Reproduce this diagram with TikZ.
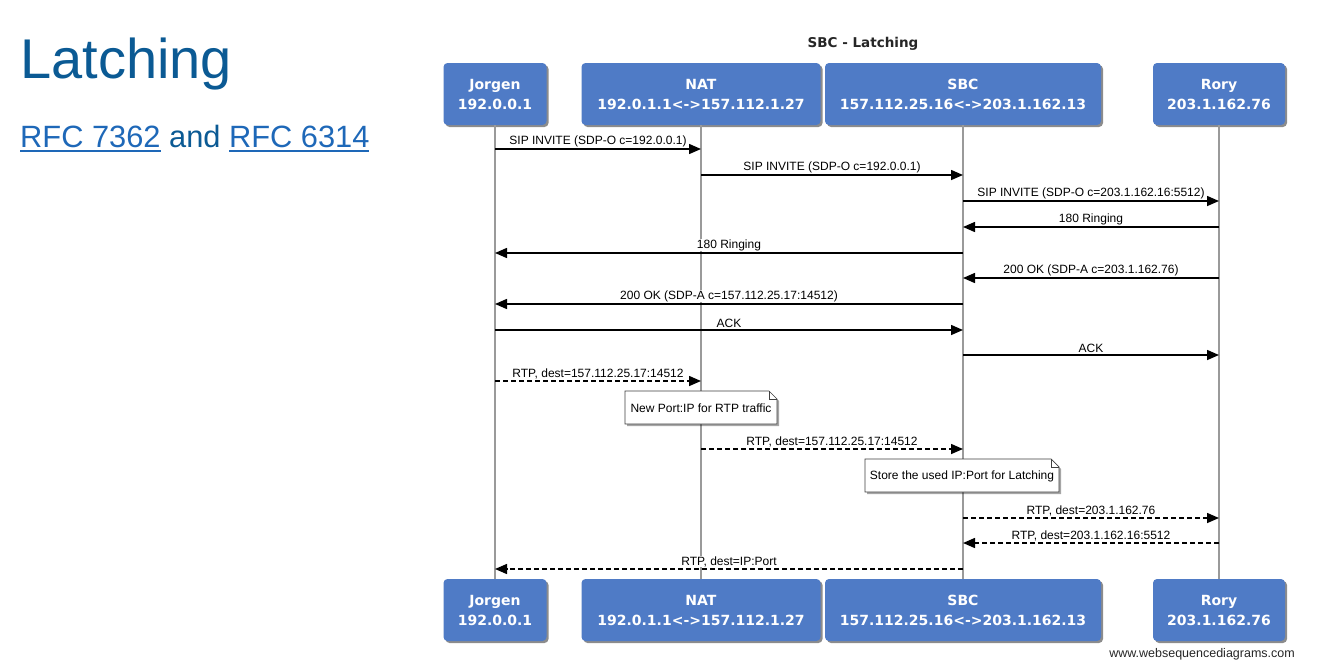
\documentclass[tikz,border=0pt]{standalone}
\usepackage{fontspec}
\setmainfont{Liberation Sans}
\newfontfamily\boxfont{DejaVu Sans}
\usetikzlibrary{positioning,arrows.meta,shadows}
\definecolor{wsdblue}{HTML}{4F7BC6}
\definecolor{slideblue}{HTML}{0B5A94}
\definecolor{linkblue}{HTML}{1E68B8}
\definecolor{lifegray}{HTML}{9A9A9A}
\newcommand\rfcul[1]{\sbox0{#1}\rlap{\rule[-4.5pt]{\wd0}{1.8pt}}\usebox0}

\begin{document}
\begin{tikzpicture}[x=1pt, y=-1pt,
    actor/.style={fill=wsdblue, rounded corners=4pt, minimum height=62pt, inner sep=0pt,
      text=white, align=center, font=\boxfont\bfseries\fontsize{14}{20}\selectfont,
      drop shadow={shadow xshift=2pt, shadow yshift=-2pt, fill=black, opacity=.45}},
    lifeline/.style={draw=lifegray, line width=1.6pt},
    msg/.style={line width=1.5pt, -{Triangle[length=12pt, width=10pt]}},
    rtp/.style={msg, dash pattern=on 5pt off 3pt},
    lbl/.style={fill=white, inner sep=0.6pt, above=0.8pt, font=\fontsize{12}{13}\selectfont},
    notebox/.style={fill=white, draw=black!75, line width=0.7pt,
      drop shadow={shadow xshift=2pt, shadow yshift=-2pt, fill=black, opacity=.35}},
    notetext/.style={font=\fontsize{12}{13}\selectfont, inner sep=0pt}]
  \useasboundingbox (0,0) rectangle (1344,667);
  \fill[white] (0,0) rectangle (1344,667);

  % slide text
  \node[anchor=base west, inner sep=0pt, text=slideblue, font=\fontsize{56}{60}\selectfont] (title) at (20,78) {Latching};
  \node[anchor=base west, inner sep=0pt, text=linkblue, font=\fontsize{30.8}{34}\selectfont] (refs) at (20,147)
    {\rfcul{RFC 7362} {\color{slideblue}and} \rfcul{RFC 6314}};

  % diagram
  \node[font=\boxfont\bfseries\fontsize{13.5}{16}\selectfont, text=black!85] (dtitle) at (863,44) {SBC - Latching};

  \node[actor, minimum width=103pt] (jt) at (495,94)  {Jorgen\\192.0.0.1};
  \node[actor, minimum width=239pt] (nt) at (701,94)  {NAT\\192.0.1.1<->157.112.1.27};
  \node[actor, minimum width=276pt] (st) at (963,94)  {SBC\\157.112.25.16<->203.1.162.13};
  \node[actor, minimum width=132pt] (rt) at (1219,94) {Rory\\203.1.162.76};
  \node[actor, minimum width=103pt] (jb) at (495,610)  {Jorgen\\192.0.0.1};
  \node[actor, minimum width=239pt] (nb) at (701,610)  {NAT\\192.0.1.1<->157.112.1.27};
  \node[actor, minimum width=276pt] (sb) at (963,610)  {SBC\\157.112.25.16<->203.1.162.13};
  \node[actor, minimum width=132pt] (rb) at (1219,610) {Rory\\203.1.162.76};

  \draw[lifeline] (jt.south) -- (jb.north);
  \draw[lifeline] (nt.south) -- (nb.north);
  \draw[lifeline] (st.south) -- (sb.north);
  \draw[lifeline] (rt.south) -- (rb.north);

  % signalling
  \draw[msg] (jt |- 0,149) -- (nt |- 0,149) node[lbl, midway] {SIP INVITE (SDP-O c=192.0.0.1)};
  \draw[msg] (nt |- 0,175) -- (st |- 0,175) node[lbl, midway] {SIP INVITE (SDP-O c=192.0.0.1)};
  \draw[msg] (st |- 0,201) -- (rt |- 0,201) node[lbl, midway] {SIP INVITE (SDP-O c=203.1.162.16:5512)};
  \draw[msg] (rt |- 0,227) -- (st |- 0,227) node[lbl, midway] {180 Ringing};
  \draw[msg] (st |- 0,253) -- (jt |- 0,253) node[lbl, midway] {180 Ringing};
  \draw[msg] (rt |- 0,278) -- (st |- 0,278) node[lbl, midway] {200 OK (SDP-A c=203.1.162.76)};
  \draw[msg] (st |- 0,304) -- (jt |- 0,304) node[lbl, midway] {200 OK (SDP-A c=157.112.25.17:14512)};
  \draw[msg] (jt |- 0,330) -- (st |- 0,330) node[lbl, midway] {ACK};
  \draw[msg] (st |- 0,355) -- (rt |- 0,355) node[lbl, midway] {ACK};

  % media
  \draw[rtp] (jt |- 0,381) -- (nt |- 0,381) node[lbl, midway] {RTP, dest=157.112.25.17:14512};
  \draw[notebox] (625,391) -- (769,391) -- (777,399) -- (777,424) -- (625,424) -- cycle;
  \draw[black!75, line width=0.7pt] (769,391) |- (777,399);
  \node[notetext] (note1) at (701,408) {New Port:IP for RTP traffic};

  \draw[rtp] (nt |- 0,449) -- (st |- 0,449) node[lbl, midway] {RTP, dest=157.112.25.17:14512};
  \draw[notebox] (865,459) -- (1051,459) -- (1059,467) -- (1059,492) -- (865,492) -- cycle;
  \draw[black!75, line width=0.7pt] (1051,459) |- (1059,467);
  \node[notetext] (note2) at (962,476) {Store the used IP:Port for Latching};

  \draw[rtp] (st |- 0,518) -- (rt |- 0,518) node[lbl, midway] {RTP, dest=203.1.162.76};
  \draw[rtp] (rt |- 0,543) -- (st |- 0,543) node[lbl, midway] {RTP, dest=203.1.162.16:5512};
  \draw[rtp] (st |- 0,569) -- (jt |- 0,569) node[lbl, midway] {RTP, dest=IP:Port};

  \node[anchor=base east, inner sep=0pt, text=black!85, font=\fontsize{12.5}{14}\selectfont] (wsd) at (1295,657) {www.websequencediagrams.com};
\end{tikzpicture}
\end{document}
